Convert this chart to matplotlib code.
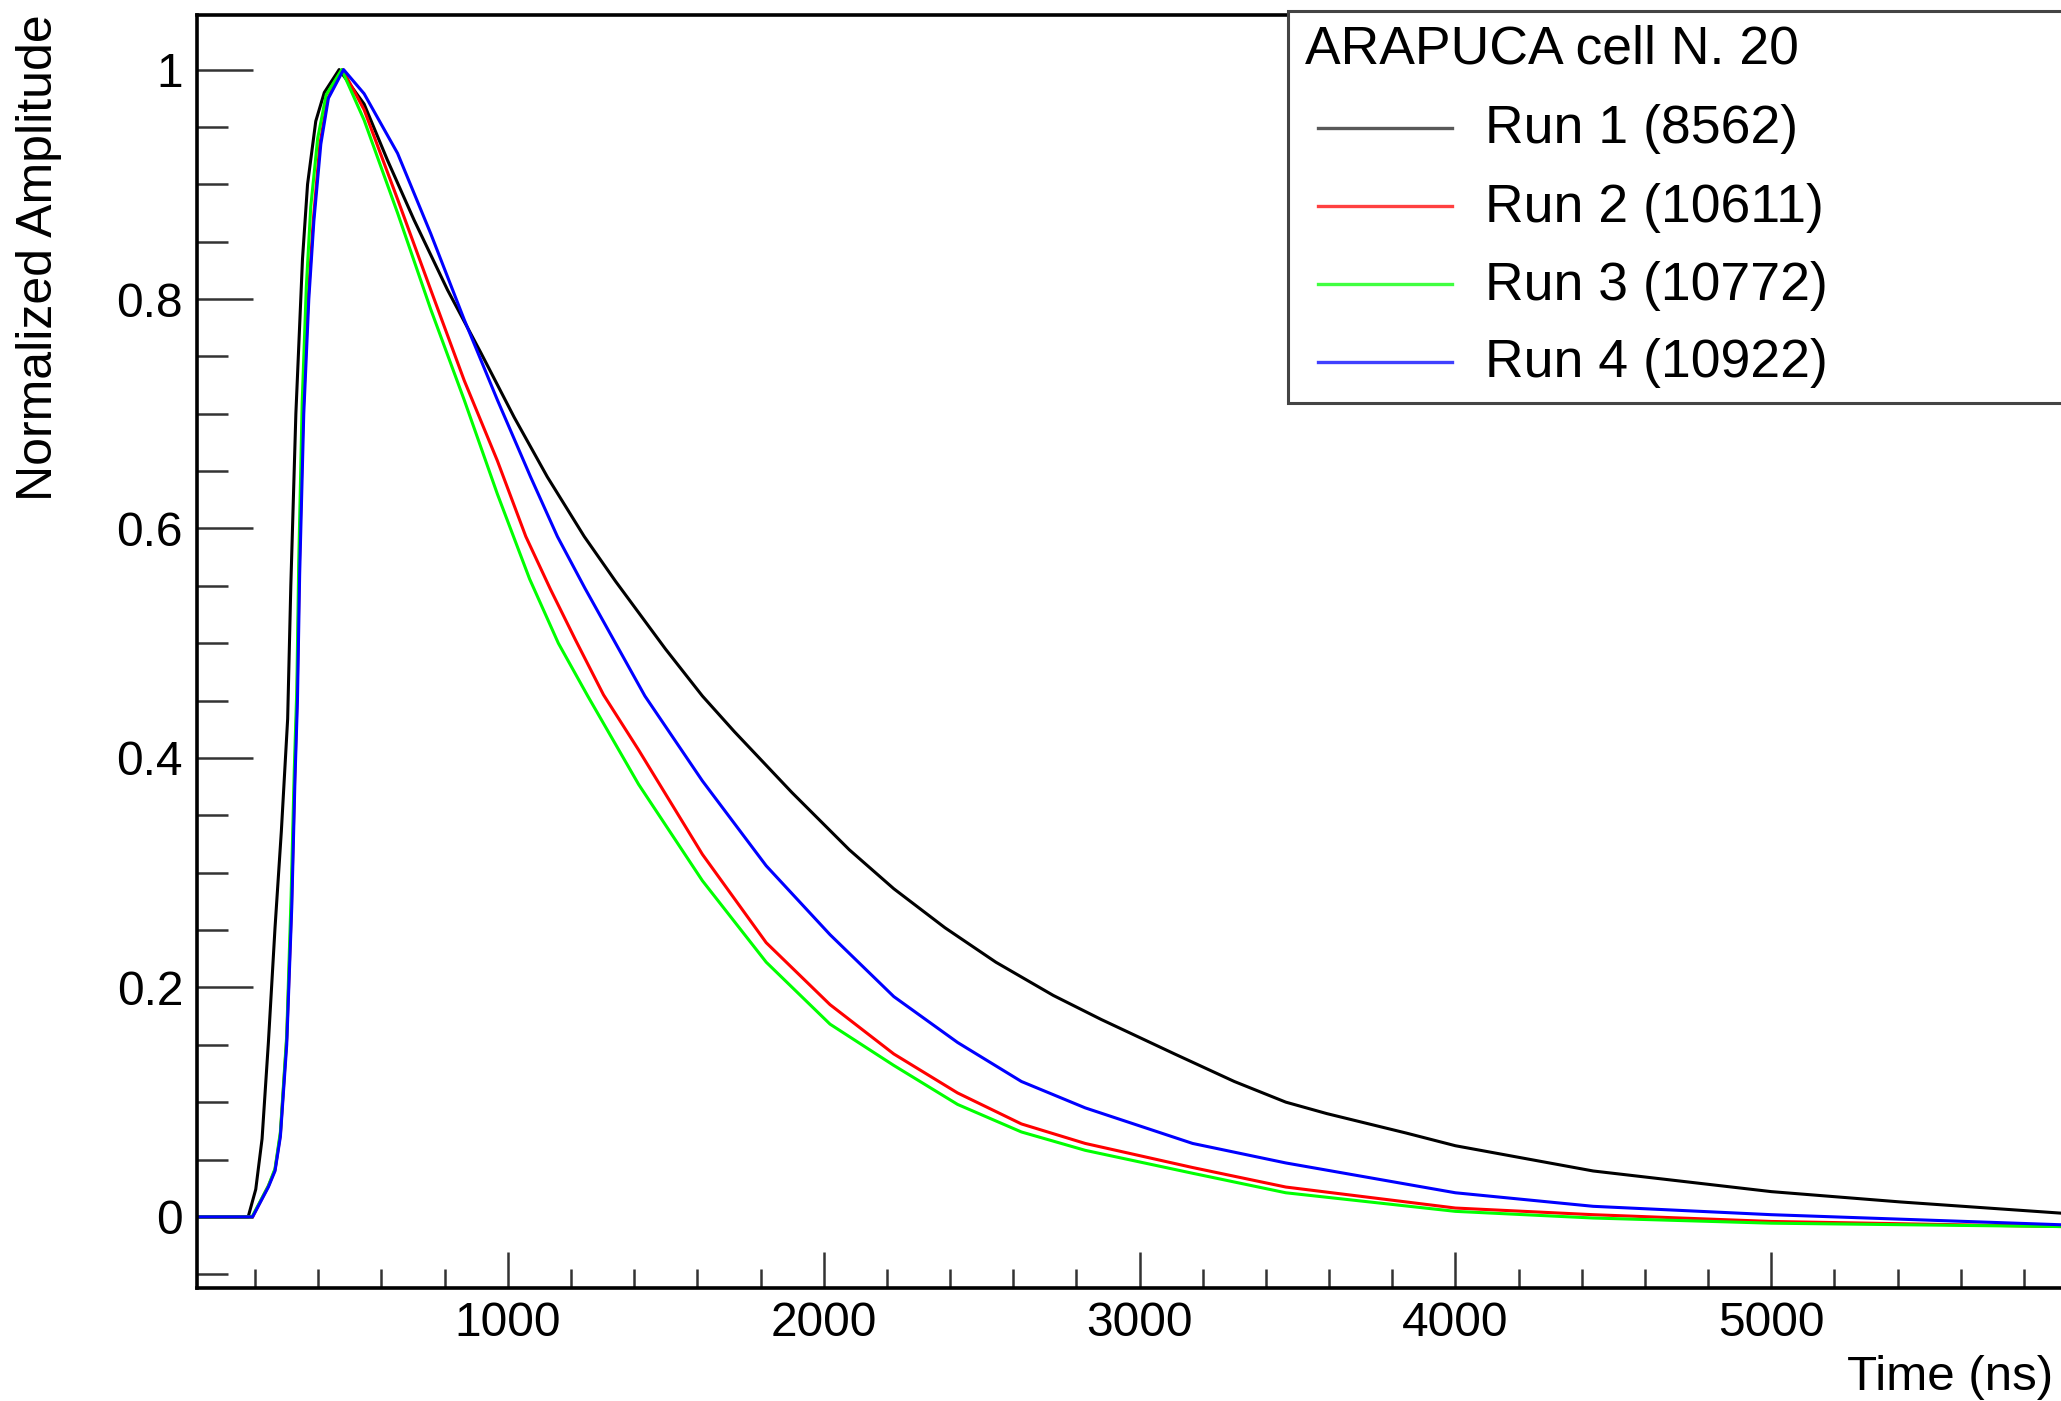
import matplotlib
matplotlib.use("Agg")
import matplotlib.pyplot as plt
import matplotlib.ticker as mticker
from matplotlib.lines import Line2D
from matplotlib.patches import Rectangle

plt.rcParams["font.family"] = ["Liberation Sans", "DejaVu Sans"]

# waveforms (time in ns, normalized amplitude)
run1_t = [16, 178, 202, 222, 242, 263, 283, 303, 313, 329, 350, 366, 392, 419, 466,
          545, 619, 703, 809, 915, 1020, 1125, 1242, 1341, 1499, 1616, 1717, 1899, 2081, 2222,
          2384, 2545, 2727, 2879, 3111, 3300, 3463, 3593, 3845, 4000, 4436, 5000, 5409, 5930, 6000]
run1_v = [0, 0, 0.024, 0.068, 0.152, 0.252, 0.336, 0.434, 0.55, 0.70, 0.835, 0.90, 0.955, 0.98, 1.0,
          0.97, 0.921, 0.869, 0.808, 0.753, 0.697, 0.645, 0.593, 0.554, 0.495, 0.454, 0.423, 0.370, 0.320, 0.286,
          0.252, 0.222, 0.193, 0.172, 0.142, 0.118, 0.100, 0.090, 0.073, 0.062, 0.040, 0.022, 0.013, 0.003, 0.003]

run2_t = [16, 192, 242, 263, 280, 300, 315, 325, 333, 340, 352, 368, 384, 405, 430, 477,
          545, 651, 756, 862, 967, 1057, 1135, 1214, 1303, 1414, 1616, 1818, 2020, 2222, 2424,
          2626, 2828, 3168, 3463, 4000, 4436, 5000, 5930, 6000]
run2_v = [0, 0, 0.027, 0.041, 0.072, 0.155, 0.27, 0.38, 0.454, 0.567, 0.70, 0.80, 0.868, 0.935, 0.975, 1.0,
          0.965, 0.887, 0.808, 0.729, 0.659, 0.593, 0.547, 0.503, 0.455, 0.407, 0.316, 0.239, 0.185, 0.142, 0.108,
          0.081, 0.064, 0.043, 0.026, 0.0077, 0.0019, -0.004, -0.0085, -0.0085]

run3_t = [16, 190, 242, 263, 280, 300, 314, 324, 332, 338, 349, 362, 376, 398, 425, 474,
          545, 651, 756, 862, 967, 1069, 1160, 1253, 1414, 1616, 1818, 2020, 2222, 2424,
          2626, 2828, 3168, 3463, 4000, 4436, 5000, 5930, 6000]
run3_v = [0, 0, 0.027, 0.042, 0.074, 0.158, 0.28, 0.39, 0.46, 0.57, 0.71, 0.81, 0.88, 0.94, 0.978, 1.0,
          0.956, 0.875, 0.791, 0.712, 0.630, 0.556, 0.50, 0.454, 0.377, 0.293, 0.222, 0.168, 0.132, 0.098,
          0.074, 0.058, 0.038, 0.021, 0.0048, -0.001, -0.0055, -0.0085, -0.0085]

run4_t = [16, 192, 242, 263, 280, 300, 316, 326, 334, 341, 354, 370, 386, 408, 432, 480,
          545, 651, 756, 862, 967, 1072, 1157, 1244, 1335, 1434, 1616, 1818, 2020, 2222, 2424,
          2626, 2828, 3168, 3463, 4000, 4436, 5000, 5930, 6000]
run4_v = [0, 0, 0.026, 0.040, 0.070, 0.150, 0.27, 0.38, 0.45, 0.56, 0.70, 0.80, 0.868, 0.935, 0.975, 1.0,
          0.979, 0.927, 0.857, 0.782, 0.712, 0.645, 0.593, 0.548, 0.503, 0.454, 0.380, 0.306, 0.246, 0.192, 0.152,
          0.118, 0.095, 0.064, 0.047, 0.021, 0.0092, 0.0019, -0.007, -0.007]

run_labels = ["Run 1 (8562)", "Run 2 (10611)", "Run 3 (10772)", "Run 4 (10922)"]
run_colors = ["#000000", "#ff0000", "#00ff00", "#0000ff"]
legend_title = "ARAPUCA cell N. 20"

W, H = 2061, 1401
X_LEFT, X_RIGHT = 197, 2084  # pixel columns of the frame (right one lies off the picture)


def fx(px):
    return px / W


def fy(py):
    return 1 - py / H


def main():
    fig = plt.figure(figsize=(W / 100, H / 100), dpi=100)
    ax = fig.add_axes([fx(X_LEFT), fy(1288), fx(X_RIGHT - X_LEFT), (1288 - 14.5) / H])

    series = [(run1_t, run1_v), (run2_t, run2_v), (run3_t, run3_v), (run4_t, run4_v)]
    for (t, v), col, lab in zip(series, run_colors, run_labels):
        ax.plot(t, v, color=col, lw=2.2, label=lab)

    ax.set_xlim(16, 5990)
    ax.set_ylim(-0.062, 1.048)

    ax.xaxis.set_major_locator(mticker.MultipleLocator(1000))
    ax.xaxis.set_minor_locator(mticker.MultipleLocator(200))
    ax.yaxis.set_major_locator(mticker.MultipleLocator(0.2))
    ax.yaxis.set_minor_locator(mticker.MultipleLocator(0.05))
    ax.yaxis.set_major_formatter(mticker.FuncFormatter(lambda v, p: f"{round(v, 2) + 0:g}"))
    ax.xaxis.set_major_formatter(mticker.FuncFormatter(lambda v, p: f"{v:.0f}"))

    ax.tick_params(axis="both", which="both", direction="in", colors="#333333", labelcolor="black",
                   top=False, right=False, labelsize=34.5)
    ax.tick_params(axis="x", which="major", length=26, width=1.8, pad=9)
    ax.tick_params(axis="x", which="minor", length=14, width=1.8)
    ax.tick_params(axis="y", which="major", length=40, width=1.8, pad=10)
    ax.tick_params(axis="y", which="minor", length=22, width=1.8)

    for s in ["left", "bottom", "top"]:
        ax.spines[s].set_linewidth(2.6)
        ax.spines[s].set_color("black")
    ax.spines["right"].set_visible(False)

    ax.set_ylabel("Normalized Amplitude", fontsize=36, loc="top")
    ax.yaxis.label.set_va("center")
    ax.yaxis.set_label_coords((39 - X_LEFT) / (X_RIGHT - X_LEFT), 1.0)
    ax.set_xlabel("Time (ns)", fontsize=35.5, loc="right")
    ax.xaxis.set_label_coords((2053 - X_LEFT) / (X_RIGHT - X_LEFT), -0.07)
    ax.xaxis.label.set_va("center")

    # ROOT style legend box, cut off at the right edge
    fig.add_artist(Rectangle((fx(1288), fy(403)), 0.5, (403 - 11) / H, transform=fig.transFigure,
                             facecolor="white", edgecolor="#444444", lw=2.2, zorder=5))
    fig.text(fx(1305), fy(50), legend_title, fontsize=38.5, va="center", ha="left", zorder=6)
    rows = [127.5, 206.4, 283.9, 361.5]
    for yy, col, lab in zip(rows, run_colors, run_labels):
        fig.add_artist(Line2D([fx(1318), fx(1452)], [fy(yy), fy(yy)], color=col, lw=2.4,
                              alpha=0.75 if col != "#000000" else 0.65, zorder=6))
        fig.text(fx(1485), fy(yy + 2), lab, fontsize=38.5, va="center", ha="left", zorder=6)

    fig.savefig("out.png", dpi=100)
    plt.close(fig)


if __name__ == "__main__":
    main()
